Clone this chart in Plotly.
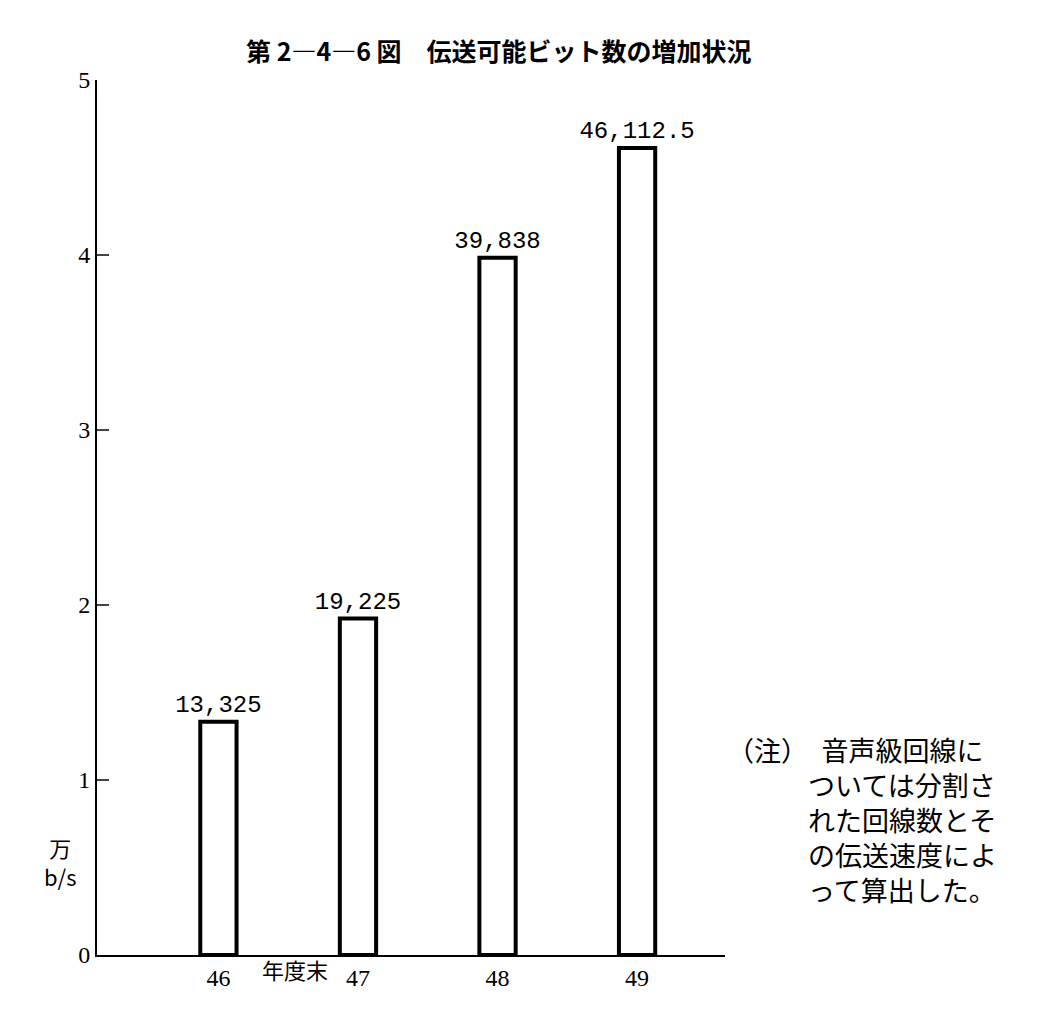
import plotly.graph_objects as go

years = [46, 47, 48, 49]
values = [1.3325, 1.9225, 3.9838, 4.611250]
labels = ["13,325", "19,225", "39,838", "46,112.5"]
yticks = [0, 1, 2, 3, 4, 5]

fig = go.Figure()
fig.add_trace(go.Bar(
    x=years, y=values, width=0.26,
    marker=dict(color="white", line=dict(color="black", width=4)),
    text=labels, textposition="outside", cliponaxis=False, constraintext="none",
    textfont=dict(family="Liberation Mono", size=24, color="black"),
))

fig.update_layout(
    width=1061, height=1029,
    margin=dict(l=89, r=344, t=72, b=82),
    plot_bgcolor="white", paper_bgcolor="white",
    showlegend=False,
    font=dict(family="Noto Sans CJK JP", color="black"),
    xaxis=dict(range=[45.13, 49.63], tickvals=years, ticktext=[str(y) for y in years],
               showline=True, linecolor="black", linewidth=2, ticks="",
               showgrid=False, zeroline=False,
               tickfont=dict(family="Liberation Sans Narrow", size=24)),
    yaxis=dict(range=[0, 5], tickvals=yticks, showline=True, linecolor="black",
               linewidth=2, ticks="inside", ticklen=12, tickwidth=2,
               showgrid=False, zeroline=False,
               tickfont=dict(family="Liberation Sans Narrow", size=24)),
)

fig.add_annotation(text="<b>第 2―4―6 図　伝送可能ビット数の増加状況</b>", xref="paper", yref="paper",
                   x=0.64, y=1, yshift=50, showarrow=False, font=dict(size=25))
fig.add_annotation(text="年度末", xref="x", yref="paper", x=46.3, y=0, yshift=-32,
                   xanchor="left", showarrow=False, font=dict(size=22))
fig.add_annotation(text="万<br>b/s", xref="paper", yref="paper", x=0, xshift=-55, y=0.07,
                   showarrow=False, align="center", font=dict(size=22))
fig.add_annotation(
    text="（注）　音声級回線に<br>　　　ついては分割さ<br>　　　れた回線数とそ<br>　　　の伝送速度によ<br>　　　って算出した。",
    xref="paper", yref="paper", x=1, xshift=0, y=0.26, xanchor="left", yanchor="top",
    showarrow=False, align="left", font=dict(size=27))

fig.write_html("out.html")
